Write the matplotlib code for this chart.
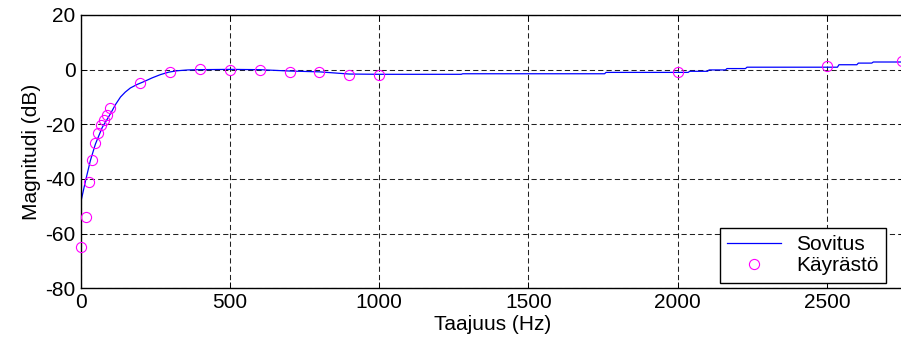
import numpy as np
import matplotlib
matplotlib.use("Agg")
import matplotlib.pyplot as plt

plt.rcParams['font.family'] = ['Liberation Sans', 'DejaVu Sans']
plt.rcParams['axes.unicode_minus'] = False

# measured points (Käyrästö)
meas_f = [0, 20, 30, 40, 50, 60, 70, 80, 90, 100, 200, 300, 400, 500,
          600, 700, 800, 900, 1000, 2000, 2500, 2750]
meas_db = [-65, -54, -41, -33, -27, -23.2, -20.2, -18.4, -16.5, -14, -4.8,
           -0.7, 0.2, 0, 0, -0.7, -0.8, -1.9, -1.9, -0.8, 1.2, 3.2]

# fitted response (Sovitus)
fit_f = [0, 17, 33, 50, 73, 100, 117, 134, 150, 167, 190, 212, 240, 268,
         296, 324, 360, 400, 500, 600, 700, 800, 900, 1000, 1275, 1280,
         1755, 1760, 2035, 2040, 2100, 2105, 2160, 2165, 2227, 2232, 2535,
         2540, 2600, 2605, 2650, 2655, 2770]
fit_db = [-49, -40.6, -33.3, -27.2, -21.1, -16.2, -12.8, -10.0, -8.2, -6.7,
          -5.4, -4.4, -3.0, -1.8, -0.9, -0.4, -0.1, 0, 0.1, 0, -0.5, -0.8,
          -1.6, -1.7, -1.7, -1.5, -1.5, -1.0, -1.0, -0.6, -0.6, -0.1, -0.1,
          0.4, 0.4, 0.9, 0.9, 1.8, 1.8, 2.4, 2.4, 2.8, 2.8]

xticks = [0, 500, 1000, 1500, 2000, 2500]
yticks = [-80, -60, -40, -20, 0, 20]

W, H = 901, 349
fig = plt.figure(figsize=(W / 100, H / 100), dpi=100)
left, right, top, bottom = 80.5, 905, 15, 288.3
ax = fig.add_axes([left / W, 1 - bottom / H, (right - left) / W, (bottom - top) / H])

ax.plot(fit_f, fit_db, color='#0000ff', lw=0.9, label='Sovitus')
ax.plot(meas_f, meas_db, 'o', mfc='none', mec='#ff00ff', ms=7.3, mew=0.8,
        label='Käyrästö', clip_on=False, zorder=3)

xmax = (right - left) / 149.3 * 500
ax.set_xlim(0, xmax)
ax.set_ylim(-80, 20)
ax.set_xticks(xticks)
ax.set_yticks(yticks)
ax.grid(True, color='#222222', ls=(0, (5.0, 3.0)), lw=0.75)
ax.tick_params(direction='in', length=4, width=0.7, labelsize=15,
               top=True, right=True, colors='black')
for s in ax.spines.values():
    s.set_linewidth(1.0)

ax.set_xlabel('Taajuus (Hz)', fontsize=15, labelpad=2)
ax.set_ylabel('Magnitudi (dB)', fontsize=15, labelpad=3)

leg = ax.legend(loc='lower right', bbox_to_anchor=(0.9766, 0.0205),
                borderaxespad=0, fontsize=15, fancybox=False,
                framealpha=1, edgecolor='black', handlelength=2.6,
                handletextpad=0.7, labelspacing=0.1, borderpad=0.35)
leg.get_frame().set_linewidth(1.0)

fig.savefig('out.png', dpi=100)
